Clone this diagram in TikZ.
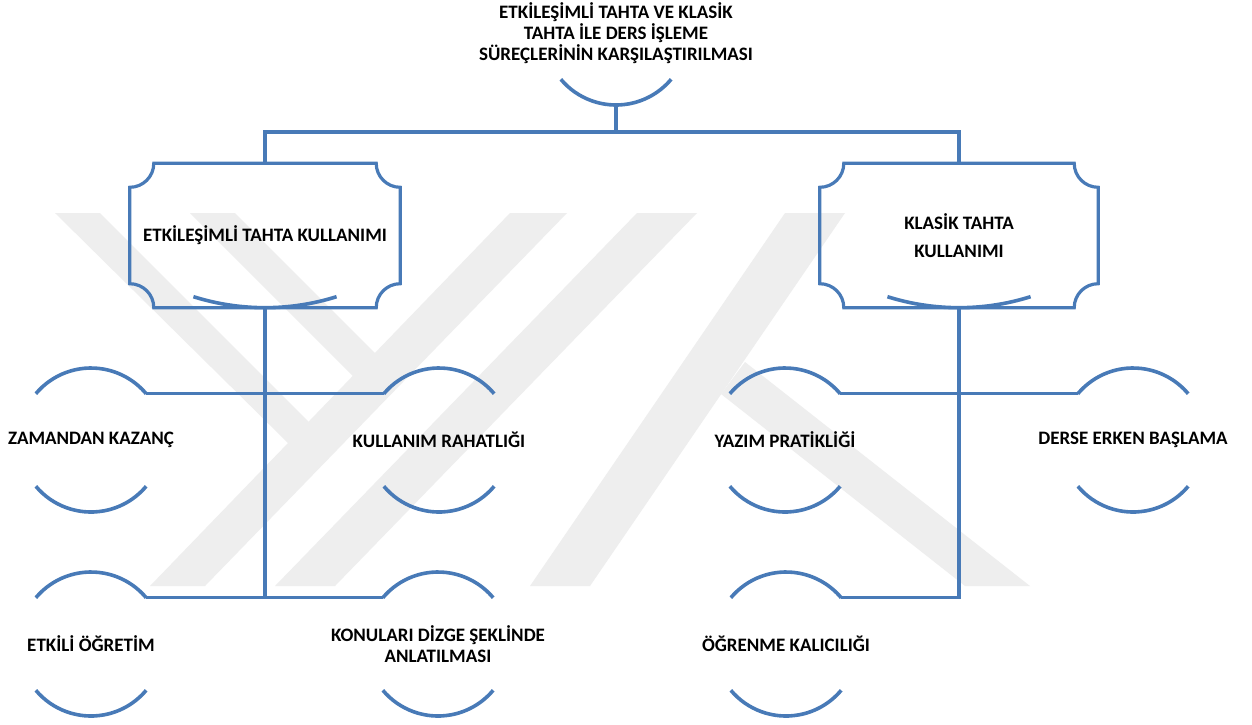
\documentclass[tikz,border=0pt]{standalone}
\usepackage{fontspec}
\setmainfont{Carlito}
\usetikzlibrary{calc}
\definecolor{lineblue}{RGB}{72,122,183}
\definecolor{wmgray}{RGB}{238,238,238}
\newcommand\leafitem[4]{%
  \node[lbl] (#1) at (#2,#3) {#4};
  \draw[arcline] ([shift={(140:72pt)}]#1.center) arc[start angle=140,end angle=40,radius=72pt];
  \draw[arcline] ([shift={(220:72pt)}]#1.center) arc[start angle=220,end angle=320,radius=72pt];
}
\newcommand\plaqueoutline[1]{%
  \draw[conn] ([xshift=24pt]#1.north west) -- ([xshift=-24pt]#1.north east)
    arc[start angle=180,end angle=270,radius=24pt]
    -- ([yshift=24pt]#1.south east)
    arc[start angle=90,end angle=180,radius=24pt]
    -- ([xshift=24pt]#1.south west)
    arc[start angle=0,end angle=90,radius=24pt]
    -- ([yshift=-24pt]#1.north west)
    arc[start angle=270,end angle=360,radius=24pt] -- cycle;
  \draw[arcline] ([yshift=238pt]#1.south) ++(252.5:238pt) arc[start angle=252.5,end angle=287.5,radius=238pt];
}
\begin{document}
\begin{tikzpicture}[x=1pt,y=-1pt,
  conn/.style={draw=lineblue,line width=3.2pt},
  arcline/.style={draw=lineblue,line width=3.6pt},
  lbl/.style={font=\bfseries\fontsize{19}{21}\selectfont,align=center,inner sep=0pt,text=black},
  plaque/.style={minimum height=144pt,inner sep=0pt,font=\bfseries\fontsize{19}{21}\selectfont,align=center,text=black},
  wm/.style={fill=wmgray,draw=none}]
\useasboundingbox (0,0) rectangle (1252,724);
\fill[white] (0,0) rectangle (1252,724);
% watermark
\fill[wm] (55,213) -- (100,213) -- (330,443) -- (288,443) -- cycle;
\fill[wm] (190,213) -- (235,213) -- (400,378) -- (355,378) -- cycle;
\fill[wm] (510,213) -- (567,213) -- (205,586) -- (150,586) -- cycle;
\fill[wm] (637,213) -- (697,213) -- (335,586) -- (275,586) -- cycle;
\fill[wm] (785,213) -- (845,213) -- (590,586) -- (530,586) -- cycle;
\fill[wm] (745,362) -- (1030,586) -- (965,586) -- (721,394) -- cycle;
% title
\node[lbl] (title) at (616,33) {ETKİLEŞİMLİ TAHTA VE KLASİK\\TAHTA İLE DERS İŞLEME\\SÜREÇLERİNİN KARŞILAŞTIRILMASI};
\draw[arcline] ([shift={(220:72pt)}]title.center) arc[start angle=220,end angle=320,radius=72pt];
\coordinate (tb) at ([yshift=-72pt]title.center);
\coordinate (j) at (616,132);
% mid boxes
\node[plaque,minimum width=270pt] (etk) at (265,235.5) {ETKİLEŞİMLİ TAHTA KULLANIMI};
\node[plaque,minimum width=278pt] (kls) at (959,235.5) {KLASİK TAHTA\\[7pt]KULLANIMI};
\plaqueoutline{etk}
\plaqueoutline{kls}
\draw[conn] (tb) -- (j);
\draw[conn] (etk.north) |- (j) -| (kls.north);
% leaves
\leafitem{zk}{91}{440}{ZAMANDAN KAZANÇ}
\leafitem{kr}{439}{440}{KULLANIM RAHATLIĞI}
\leafitem{yp}{785}{440}{YAZIM PRATİKLİĞİ}
\leafitem{eb}{1133}{440}{DERSE ERKEN BAŞLAMA}
\leafitem{eo}{91}{644}{ETKİLİ ÖĞRETİM}
\leafitem{kd}{438}{644}{KONULARI DİZGE ŞEKLİNDE\\ANLATILMASI}
\leafitem{ok}{786}{644}{ÖĞRENME KALICILIĞI}
% connectors
\coordinate (zkR) at ([shift={(40:72pt)}]zk.center);
\coordinate (krL) at ([shift={(140:72pt)}]kr.center);
\coordinate (ypR) at ([shift={(40:72pt)}]yp.center);
\coordinate (ebL) at ([shift={(140:72pt)}]eb.center);
\coordinate (eoR) at ([shift={(40:72pt)}]eo.center);
\coordinate (kdL) at ([shift={(140:72pt)}]kd.center);
\coordinate (okR) at ([shift={(40:72pt)}]ok.center);
\draw[conn] (zkR) -- (krL);
\draw[conn] (ypR) -- (ebL);
\draw[conn] (eoR) -- (kdL);
\draw[conn] (etk.south) -- (etk.south |- eoR);
\draw[conn] (kls.south) |- (okR);
\end{tikzpicture}
\end{document}
